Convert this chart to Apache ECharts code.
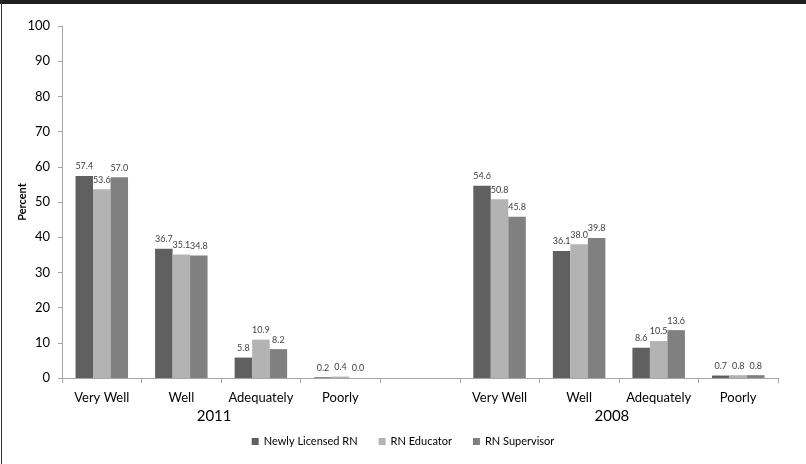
<!DOCTYPE html>
<html><head><meta charset="utf-8">
<script src="https://cdn.jsdelivr.net/npm/echarts@6/dist/echarts.min.js"></script>
<style>html,body{margin:0;padding:0;background:#fff}#c{width:806px;height:464px}</style>
</head><body><div id="c"></div>
<script>
var categories = ['Very Well','Well','Adequately','Poorly','','Very Well','Well','Adequately','Poorly'];
var groupLabels = ['2011','2008'];
var seriesNames = ['Newly Licensed RN','RN Educator','RN Supervisor'];
var newlyLicensed = [57.4, 36.7, 5.8, 0.2, null, 54.6, 36.1, 8.6, 0.7];
var rnEducator    = [53.6, 35.1, 10.9, 0.4, null, 50.8, 38.0, 10.5, 0.8];
var rnSupervisor  = [57.0, 34.8, 8.2, 0.0, null, 45.8, 39.8, 13.6, 0.8];
var yTicks = [0,10,20,30,40,50,60,70,80,90,100];

var colors = ['#606060','#b3b3b3','#808080'];
var font = 'Lato, "Open Sans", sans-serif';
var chart = echarts.init(document.getElementById('c'));
function mk(name, data, color){
  return {
    name:name, type:'bar', data:data, barGap:'0%', barCategoryGap:'34%',
    itemStyle:{color:color},
    label:{show:true, position:'top', distance:5, fontSize:9, color:'#404040', fontFamily:font,
      formatter:function(p){return p.value==null?'':Number(p.value).toFixed(1);}}
  };
}
chart.setOption({
  animation:false,
  textStyle:{fontFamily:font},
  grid:{left:62,right:28,top:26,bottom:86},
  legend:{data:seriesNames, top:431, left:'center', itemWidth:7, itemHeight:7, itemGap:21,
    icon:'rect', textStyle:{fontSize:11,color:'#000',fontFamily:font}},
  xAxis:[{
    type:'category', data:categories,
    axisLine:{lineStyle:{color:'#a6a6a6'}},
    axisTick:{show:true, length:5, lineStyle:{color:'#a6a6a6'}},
    axisLabel:{fontSize:13, color:'#000', margin:13, fontFamily:font, interval:0}
  },{
    type:'value', position:'bottom', min:0, max:categories.length, interval:1,
    offset:23,
    axisLine:{show:false}, axisTick:{show:false}, splitLine:{show:false},
    axisLabel:{fontSize:15, color:'#000', fontFamily:font, padding:[0,14,0,0],
      formatter:function(v){ if(v===2) return groupLabels[0]; if(v===7) return groupLabels[1]; return ''; }}
  }],
  yAxis:{
    type:'value', min:0, max:100, interval:10,
    name:'Percent', nameLocation:'middle', nameGap:34, nameMoveOverlap:false,
    nameTextStyle:{fontSize:11, fontWeight:'bold', color:'#000', fontFamily:font},
    axisLine:{show:true, lineStyle:{color:'#a6a6a6'}},
    axisTick:{show:true, length:4, lineStyle:{color:'#a6a6a6'}},
    splitLine:{show:false},
    axisLabel:{fontSize:13, color:'#000', margin:12, fontFamily:font}
  },
  series:[mk(seriesNames[0],newlyLicensed,colors[0]), mk(seriesNames[1],rnEducator,colors[1]), mk(seriesNames[2],rnSupervisor,colors[2])],
  graphic:[
    {type:'rect', shape:{x:0,y:0,width:806,height:4}, style:{fill:'#1f1f1f'}, silent:true},
    {type:'rect', shape:{x:1,y:0,width:1,height:464}, style:{fill:'#333'}, silent:true}
  ]
});
</script></body></html>
